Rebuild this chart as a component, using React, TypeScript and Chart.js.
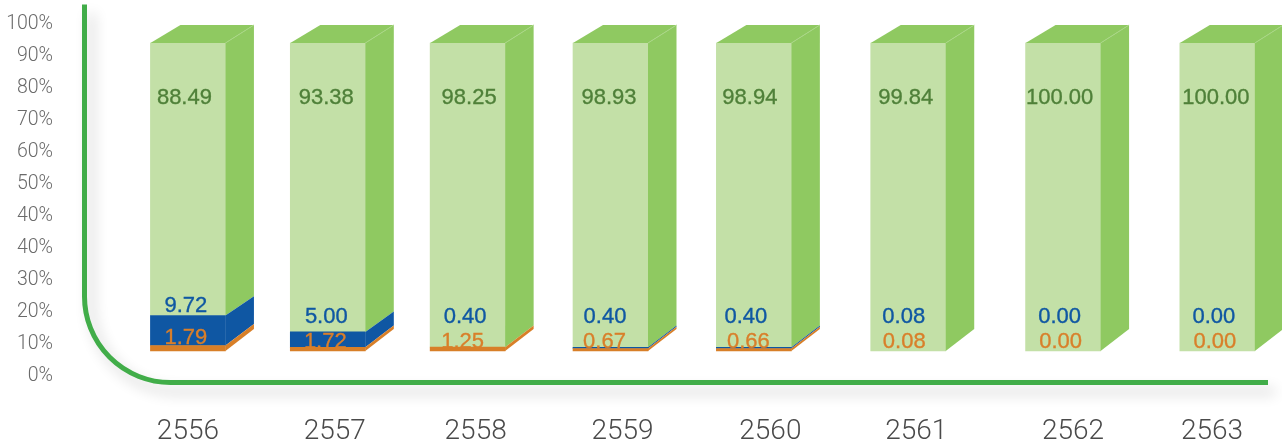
import React, { useEffect, useRef } from "react";
import { Chart, CategoryScale, registerables } from "chart.js";

const years = ["2556", "2557", "2558", "2559", "2560", "2561", "2562", "2563"];
const orangeLabels = ["1.79", "1.72", "1.25", "0.67", "0.66", "0.08", "0.00", "0.00"];
const blueLabels = ["9.72", "5.00", "0.40", "0.40", "0.40", "0.08", "0.00", "0.00"];
const greenLabels = ["88.49", "93.38", "98.25", "98.93", "98.94", "99.84", "100.00", "100.00"];
// Segment heights as drawn in the picture (they always stack to 100).
const orangeValues = [1.79, 1.2, 1.25, 0.8, 0.8, 0, 0, 0];
const blueValues = [9.72, 5.0, 0, 0.4, 0.4, 0, 0, 0];
const greenValues = [88.49, 93.8, 98.75, 98.8, 98.8, 100, 100, 100];
const yTickLabels = ["0%", "10%", "20%", "30%", "40%", "40%", "50%", "60%", "70%", "80%", "90%", "100%"];

class NudgedCategory extends CategoryScale {
  static id = "nudgedCategory";
  static defaults = {};
  getPixelForValue(value: any, index?: number) {
    const p = super.getPixelForValue(value, index);
    const i = typeof value === "number" ? Math.round(value) : (this as any).parse(value);
    const shift = (this.options as any).barShift;
    return p + (shift?.[i] ?? 0);
  }
  getPixelForTick(index: number) {
    const t = this.ticks[index];
    if (!t) return null as any;
    const shift = (this.options as any).tickShift;
    return super.getPixelForValue(t.value) + (shift?.[index] ?? 0);
  }
}

Chart.register(...registerables, NudgedCategory);

const FRONT = { green: "#c3e0a7", blue: "#0f57a3", orange: "#d87f28" };
const SIDE = { green: "#8fc961", blue: "#0f57a3", orange: "#d87f28" };
const TEXT = { green: "#4f8039", blue: "#0f57a3", orange: "#d97f2a" };
const DEPTH_X = 28.5;

function depthY(v: number) {
  if (v >= 10) return 18 + ((100 - v) / 90) * 1.3;
  return 19.3 + ((10 - v) / 10) * 2.7;
}

const frame3d = {
  id: "frame3d",
  beforeDatasetsDraw(chart: any) {
    const { ctx } = chart;
    ctx.save();
    ctx.shadowColor = "rgba(0,0,0,0.2)";
    ctx.shadowBlur = 14;
    ctx.shadowOffsetX = 7;
    ctx.shadowOffsetY = 9;
    ctx.strokeStyle = "#41ad49";
    ctx.lineWidth = 5;
    ctx.beginPath();
    ctx.moveTo(84.5, 4.5);
    ctx.lineTo(84.5, 296);
    ctx.arcTo(84.5, 382.5, 171, 382.5, 86);
    ctx.lineTo(1268, 382.5);
    ctx.stroke();
    ctx.restore();
  },
  afterDatasetsDraw(chart: any) {
    const { ctx } = chart;
    const y = chart.scales.y;
    const meta = chart.data.datasets.map((_: any, i: number) => chart.getDatasetMeta(i));
    const keys = ["orange", "blue", "green"] as const;
    years.forEach((_, i) => {
      let base = 0;
      const stack: { lo: number; hi: number; key: string; right: number }[] = [];
      meta.forEach((m: any, d: number) => {
        const val = chart.data.datasets[d].data[i];
        const bar = m.data[i];
        stack.push({ lo: base, hi: base + val, key: keys[d], right: bar.x + bar.width / 2 });
        base += val;
      });
      stack.slice().reverse().forEach((s) => {
        if (s.hi - s.lo <= 0) return;
        const yl = y.getPixelForValue(s.lo);
        const yh = y.getPixelForValue(s.hi);
        ctx.fillStyle = (SIDE as any)[s.key];
        ctx.beginPath();
        ctx.moveTo(s.right, yl);
        ctx.lineTo(s.right + DEPTH_X, yl - depthY(s.lo));
        ctx.lineTo(s.right + DEPTH_X, yh - depthY(s.hi));
        ctx.lineTo(s.right, yh);
        ctx.closePath();
        ctx.fill();
      });
      const top = stack[stack.length - 1];
      const yt = y.getPixelForValue(100);
      const left = meta[0].data[i].x - meta[0].data[i].width / 2;
      ctx.fillStyle = SIDE.green;
      ctx.beginPath();
      ctx.moveTo(left, yt);
      ctx.lineTo(left + 30, yt - 18);
      ctx.lineTo(top.right + DEPTH_X, yt - 18);
      ctx.lineTo(top.right, yt);
      ctx.closePath();
      ctx.fill();
      ctx.strokeStyle = "#a9d686";
      ctx.lineWidth = 1;
      ctx.beginPath();
      ctx.moveTo(top.right, yt);
      ctx.lineTo(top.right + DEPTH_X, yt - 18);
      ctx.stroke();
    });
  },
};

const valueLabels = {
  id: "valueLabels",
  afterDraw(chart: any, _args: any, opts: any) {
    const { ctx } = chart;
    const y = chart.scales.y;
    const texts: Record<string, string[]> = { orange: orangeLabels, blue: blueLabels, green: greenLabels };
    ctx.save();
    ctx.font = opts.font;
    ctx.textAlign = "center";
    ctx.textBaseline = "middle";
    ctx.lineWidth = 0.35;
    ["orange", "blue", "green"].forEach((key, d) => {
      const bars = chart.getDatasetMeta(d).data;
      texts[key].forEach((t, i) => {
        ctx.fillStyle = (TEXT as any)[key];
        ctx.strokeStyle = (TEXT as any)[key];
        const px = bars[i].x + opts.dx[key][i];
        const py = y.getPixelForValue(opts.at[key][i]);
        ctx.fillText(t, px, py);
        ctx.strokeText(t, px, py);
      });
    });
    ctx.restore();
  },
};

export default function App() {
  const ref = useRef<HTMLCanvasElement | null>(null);
  useEffect(() => {
    const chart = new Chart(ref.current as HTMLCanvasElement, {
      type: "bar",
      data: {
        labels: years,
        datasets: [
          { label: "orange", data: orangeValues, backgroundColor: FRONT.orange },
          { label: "blue", data: blueValues, backgroundColor: FRONT.blue },
          { label: "green", data: greenValues, backgroundColor: FRONT.green },
        ],
      },
      plugins: [frame3d, valueLabels],
      options: {
        animation: false,
        responsive: false,
        layout: { padding: { top: 24, left: 0, right: 0, bottom: 0 } },
        datasets: {
          bar: {
            barThickness: 75,
            borderWidth: 0,
            clip: false as any,
            inflateAmount: (c: any) => (c.raw > 0 ? 0.33 : 0),
          },
        },
        plugins: {
          legend: { display: false },
          tooltip: { enabled: false },
          valueLabels: {
            font: '22px "Liberation Sans"',
            dx: {
              green: [-3.5, -1.5, 1.5, -1.5, -4, -2.5, -3.5, -1.5],
              blue: [-2, -1.5, -2.5, -5.5, -8, -4.5, -3.5, -3.5],
              orange: [-2, -2.5, -5, -6, -5.5, -4, -2.5, -2.5],
            },
            at: {
              green: [82.2, 82.2, 82.2, 82.2, 82.2, 82.2, 82.2, 82.2],
              blue: [14.7, 11.2, 11.2, 11.2, 11.2, 11.2, 11.2, 11.2],
              orange: [4.2, 2.8, 2.8, 2.8, 2.8, 2.8, 2.8, 2.8],
            },
          },
        } as any,
        scales: {
          x: {
            type: "nudgedCategory" as any,
            stacked: true,
            offset: true,
            barShift: [0, -6, -12, -15, -17.5, -9, 0, 8.4],
            tickShift: [0, 1, -4, -3, -1, -1, 10, 3],
            grid: { display: false, drawTicks: false },
            border: { display: false },
            afterFit: (s: any) => { s.height = 67; },
            ticks: {
              autoSkip: false,
              maxRotation: 0,
              padding: 39,
              color: "#4a4a4a",
              font: { family: "Roboto", size: 28, weight: "300" },
            },
          } as any,
          y: {
            display: false,
            stacked: true,
            min: -8.12,
            max: 106.17,
          },
          y2: {
            type: "linear",
            position: "left",
            min: 0,
            max: 11,
            grid: { display: false, drawTicks: false },
            border: { display: false },
            afterFit: (s: any) => { s.width = 115; s.paddingTop = 0; s.paddingBottom = 0; },
            ticks: {
              stepSize: 1,
              autoSkip: false,
              padding: 62,
              color: "#6a6a6a",
              font: { family: "Roboto", size: 19.5, weight: "300" },
              callback: (v: any) => yTickLabels[Number(v)],
            },
          },
        },
      },
    } as any);
    return () => chart.destroy();
  }, []);
  return (
    <div style={{ position: "absolute", left: 0, top: 0, width: 1282, height: 443, overflow: "hidden", background: "#fff" }}>
      <canvas ref={ref} width={1282} height={443} style={{ display: "block" }} />
    </div>
  );
}
